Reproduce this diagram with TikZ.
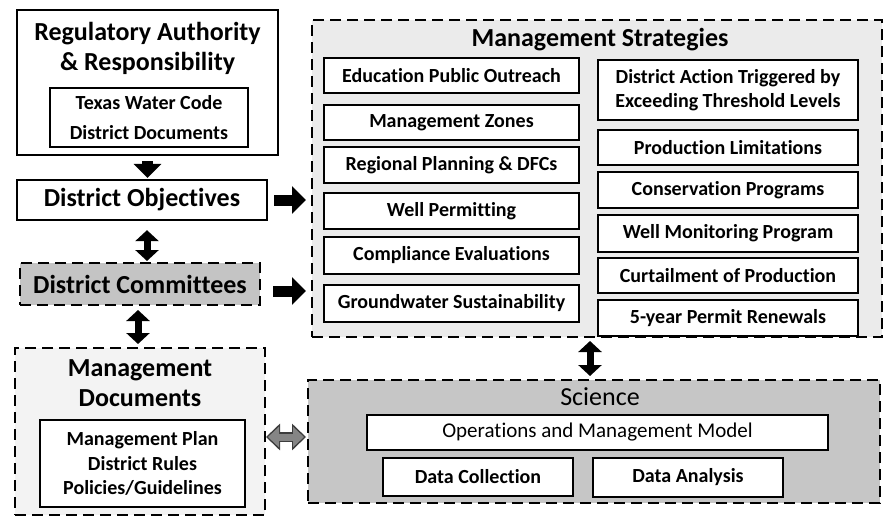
\documentclass[tikz,border=0pt]{standalone}
\usepackage{fontspec}
\setmainfont{Carlito}[Ligatures=NoCommon]
\usetikzlibrary{arrows.meta}
\definecolor{stratfill}{HTML}{EBEBEB}
\definecolor{scifill}{HTML}{C6C6C6}
\definecolor{comfill}{HTML}{C4C4C4}
\definecolor{docfill}{HTML}{F3F3F3}
\definecolor{linkgray}{HTML}{858585}
\definecolor{linkedge}{HTML}{3C3C3C}
\begin{document}
\begin{tikzpicture}[x=1pt,y=-1pt,
  box/.style 2 args={minimum width=#1pt, minimum height=#2pt},
  solidbox/.style={draw, line width=2.3pt, fill=white, inner sep=0pt, align=center,
    font=\bfseries\fontsize{20}{24}\selectfont},
  dashbox/.style={draw, line width=2pt, dash pattern=on 11pt off 6pt, inner sep=0pt, align=center},
  bigtitle/.style={font=\bfseries\fontsize{26}{30}\selectfont, align=center, inner sep=0pt},
  blockarrow/.style={line width=11pt, -{Triangle[width=27pt,length=14pt]}},
  twowayarrow/.style={line width=7pt, {Triangle[width=23pt,length=11pt]}-{Triangle[width=23pt,length=11pt]}},
  grayedge/.style={line width=10pt, linkedge, {Triangle[width=26pt,length=14pt]}-{Triangle[width=26pt,length=14pt]}},
  grayarrow/.style={line width=7pt, linkgray, {Triangle[width=20pt,length=11pt]}-{Triangle[width=20pt,length=11pt]}},
]
\useasboundingbox (0,0) rectangle (886,517);

% --- left column ---
\node[solidbox, box={261}{145}] (reg) at (147.5,82.5) {};
\node[bigtitle] (regtitle) at (147.5,48) {Regulatory Authority\\\& Responsibility};
\node[solidbox, box={198}{59}, font=\bfseries\fontsize{20}{30}\selectfont] (code) at (149,117.5)
  {Texas Water Code\\District Documents};

\node[solidbox, box={250}{40}, font=\bfseries\fontsize{26}{30}\selectfont] (obj) at (142,200) {District Objectives};

\node[dashbox, fill=comfill, box={240}{42}, font=\bfseries\fontsize{26}{30}\selectfont] (com) at (140,284) {District Committees};

\node[dashbox, fill=docfill, box={250}{167}] (docs) at (140,431.5) {};
\node[bigtitle] (docstitle) at (140,383) {Management\\Documents};
\node[solidbox, box={205}{87}, font=\bfseries\fontsize{20}{24.5}\selectfont] (docin) at (142.5,463.5)
  {Management Plan\\District Rules\\Policies/Guidelines};

% --- management strategies ---
\node[dashbox, fill=stratfill, box={570}{317}] (strat) at (597,178.5) {};
\node[bigtitle] (strattitle) at (600,40) {Management Strategies};

\node[solidbox, box={255}{35}] (s1) at (451.5,75.5) {Education Public Outreach};
\node[solidbox, box={255}{35}] (s2) at (451.5,122.5) {Management Zones};
\node[solidbox, box={255}{36}] (s3) at (451.5,165) {Regional Planning \& DFCs};
\node[solidbox, box={255}{36}] (s4) at (451.5,211) {Well Permitting};
\node[solidbox, box={255}{37}] (s5) at (451.5,255.5) {Compliance Evaluations};
\node[solidbox, box={255}{37}] (s6) at (451.5,303.5) {Groundwater Sustainability};

\node[solidbox, box={260}{60}] (t1) at (728,90) {District Action Triggered by\\Exceeding Threshold Levels};
\node[solidbox, box={260}{35}] (t2) at (728,147.5) {Production Limitations};
\node[solidbox, box={260}{36}] (t3) at (728,190) {Conservation Programs};
\node[solidbox, box={260}{37}] (t4) at (728,233.5) {Well Monitoring Program};
\node[solidbox, box={260}{35}] (t5) at (728,275.5) {Curtailment of Production};
\node[solidbox, box={260}{36}] (t6) at (728,318) {5-year Permit Renewals};

% --- science ---
\node[dashbox, fill=scifill, box={572}{123}] (sci) at (594,441.5) {};
\node[font=\fontsize{26}{30}\selectfont, inner sep=0pt] (scititle) at (600,397) {Science};
\node[solidbox, box={461}{35}, font=\fontsize{21}{25}\selectfont] (ops) at (597.5,432.5) {Operations and Management Model};
\node[solidbox, box={190}{38}] (dc) at (478,477) {Data Collection};
\node[solidbox, box={190}{39}] (da) at (688,477.5) {Data Analysis};

% --- connectors ---
\draw[blockarrow, shorten <=5pt, shorten >=1pt] (reg.south) -- (reg.south |- obj.north);
\draw[blockarrow, shorten <=6pt, shorten >=5pt] (obj.east) -- (obj.east -| strat.west);
\draw[blockarrow, shorten <=12pt, shorten >=5pt] ([yshift=-7pt]com.east) -- ([yshift=-7pt]com.east -| strat.west);
\draw[twowayarrow, shorten <=9pt, shorten >=1pt] ([xshift=5pt]obj.south) -- ([xshift=5pt]obj.south |- com.north);
\draw[twowayarrow, shorten <=4pt, shorten >=3pt] ([xshift=-2pt]com.south) -- ([xshift=-2pt]com.south |- docs.north);
\draw[twowayarrow, shorten <=3pt, shorten >=3pt] ([xshift=-7pt]strat.south) -- ([xshift=-7pt]strat.south |- sci.north);
% grey two-way link: dark rim underneath, grey body on top
\draw[grayedge, shorten >=1pt] ([yshift=-5.5pt]docs.east) -- ([yshift=-5.5pt]docs.east -| sci.west);
\draw[grayarrow, shorten <=2pt, shorten >=3pt] ([yshift=-5.5pt]docs.east) -- ([yshift=-5.5pt]docs.east -| sci.west);
\end{tikzpicture}
\end{document}
